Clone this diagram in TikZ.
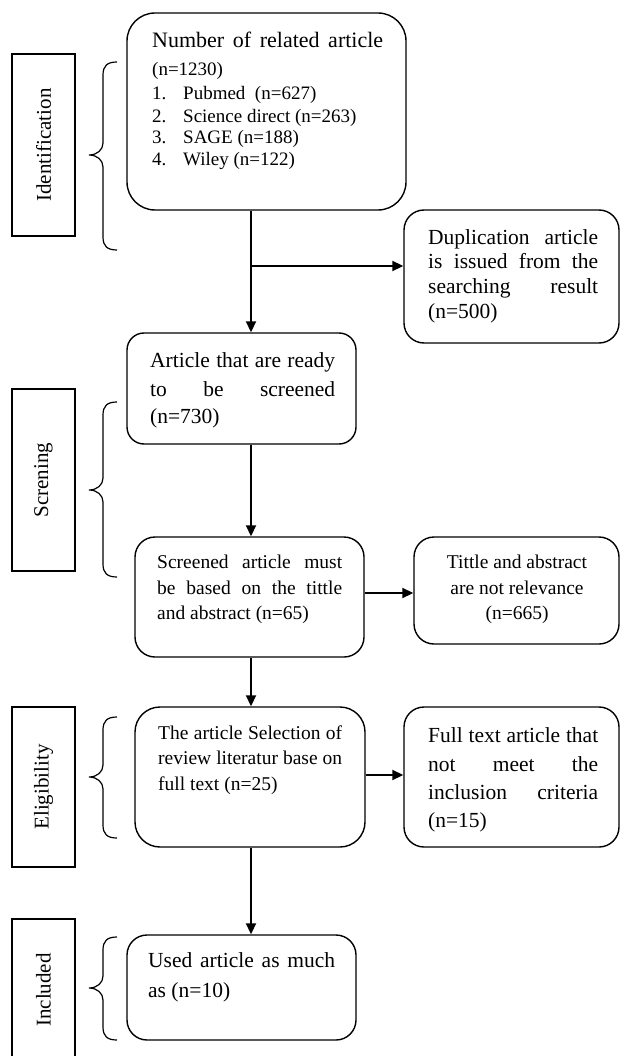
\documentclass[tikz,border=0pt]{standalone}
\usepackage{fontspec}
\setmainfont{Liberation Serif}
\usetikzlibrary{arrows.meta}
\newcommand{\sprd}[2]{\makebox[#1][s]{#2}}
\newcommand{\fa}{\fontsize{19}{23}\selectfont}
\newcommand{\fb}{\fontsize{19.5}{23}\selectfont}
\newcommand{\fc}{\fontsize{21.5}{25}\selectfont}
\newcommand{\mybrace}[3]{%
  \draw[brc] (117,#1) .. controls (107,#1) and (103,{#1+4}) .. (103,{#1+13})
    -- (103,{#2-12}) .. controls (103,{#2-5}) and (97,#2) .. (89,#2)
    .. controls (97,#2) and (103,{#2+5}) .. (103,{#2+12})
    -- (103,{#3-13}) .. controls (103,{#3-4}) and (107,#3) .. (117,#3);}
\tikzset{
  box/.style={draw, line width=1.4pt, inner sep=0pt},
  lab/.style={draw, line width=1.3pt, rotate=90, inner sep=0pt, minimum height=63pt, font=\fontsize{21}{25}\selectfont},
  ln/.style={anchor=base west, inner sep=0pt},
  lnc/.style={anchor=base, inner sep=0pt},
  arr/.style={line width=1.8pt, -{Triangle[length=11pt,width=10pt]}},
  brc/.style={line width=1.2pt},
}
\begin{document}
\begin{tikzpicture}[x=1pt,y=-1pt]
\useasboundingbox (0,0) rectangle (620,1056);
\clip (0,0) rectangle (620,1056);
\fill[white] (0,0) rectangle (620,1056);

% stage labels
\node[lab, minimum width=182pt] (lid) at (43.5,145) {Identification};
\node[lab, minimum width=182pt] (lsc) at (43.5,480) {Screning};
\node[lab, minimum width=160pt] (lel) at (43.5,787) {Eligibility};
\node[lab, minimum width=142pt] (lin) at (43.5,990) {Included};

% braces
\mybrace{62}{155}{250}
\mybrace{402}{490}{577}
\mybrace{717}{777}{838}
\mybrace{937}{988}{1040}

% boxes
\node[box, rounded corners=28pt, minimum width=279pt, minimum height=197pt] (b1) at (266.5,111.5) {};
\node[box, rounded corners=20pt, minimum width=215pt, minimum height=133pt] (b2) at (511.5,276.5) {};
\node[box, rounded corners=17pt, minimum width=229pt, minimum height=111pt] (b3) at (241.5,388.5) {};
\node[box, rounded corners=20pt, minimum width=229pt, minimum height=120pt] (b4) at (249.5,597) {};
\node[box, rounded corners=20pt, minimum width=205pt, minimum height=107pt] (b5) at (516.5,590.5) {};
\node[box, rounded corners=25pt, minimum width=230pt, minimum height=140pt] (b6) at (250,777) {};
\node[box, rounded corners=20pt, minimum width=215pt, minimum height=140pt] (b7) at (511.5,777) {};
\node[box, rounded corners=20pt, minimum width=229pt, minimum height=105pt] (b8) at (241.5,987.5) {};

% box 1 text
\node[ln, font=\fontsize{22}{26}\selectfont] (b1a) at (152,48) {\sprd{231pt}{Number of related article}};
\node[ln, font=\fa] (b1b) at (152,76) {(n=1230)};
\node[ln, font=\fa] (b1c) at (152,100) {\makebox[31pt][l]{1.}Pubmed\ \ (n=627)};
\node[ln, font=\fa] (b1d) at (152,123) {\makebox[31pt][l]{2.}Science direct (n=263)};
\node[ln, font=\fa] (b1e) at (152,144) {\makebox[31pt][l]{3.}SAGE (n=188)};
\node[ln, font=\fa] (b1f) at (152,166) {\makebox[31pt][l]{4.}Wiley (n=122)};

% box 2 text
\node[ln, font=\fc] (b2a) at (428,245) {\sprd{170pt}{Duplication article}};
\node[ln, font=\fc] (b2b) at (428,269) {\sprd{170pt}{is issued from the}};
\node[ln, font=\fc] (b2c) at (428,294) {\sprd{170pt}{searching result}};
\node[ln, font=\fc] (b2d) at (428,318) {(n=500)};

% box 3 text
\node[ln, font=\fc] (b3a) at (150,367) {\sprd{185pt}{Article that are ready}};
\node[ln, font=\fc] (b3b) at (150,396) {\sprd{185pt}{to be screened}};
\node[ln, font=\fc] (b3c) at (150,423) {(n=730)};

% box 4 text
\node[ln, font=\fb] (b4a) at (157,568) {\sprd{185pt}{Screened article must}};
\node[ln, font=\fb] (b4b) at (157,594) {\sprd{185pt}{be based on the tittle}};
\node[ln, font=\fb] (b4c) at (157,619) {and abstract (n=65)};

% box 5 text
\node[lnc, font=\fb] (b5a) at (517,568) {Tittle and abstract};
\node[lnc, font=\fb] (b5b) at (517,594) {are not relevance};
\node[lnc, font=\fb] (b5c) at (517,619) {(n=665)};

% box 6 text
\node[ln, font=\fb] (b6a) at (158,739) {\sprd{184pt}{The article Selection of}};
\node[ln, font=\fb] (b6b) at (158,764) {\sprd{184pt}{review literatur base on}};
\node[ln, font=\fb] (b6c) at (158,790) {full text (n=25)};

% box 7 text
\node[ln, font=\fc] (b7a) at (428,742) {\sprd{170pt}{Full text article that}};
\node[ln, font=\fc] (b7b) at (428,771) {\sprd{170pt}{not meet the}};
\node[ln, font=\fc] (b7c) at (428,799) {\sprd{170pt}{inclusion criteria}};
\node[ln, font=\fc] (b7d) at (428,827) {(n=15)};

% box 8 text
\node[ln, font=\fc] (b8a) at (148,967) {\sprd{187pt}{Used article as much}};
\node[ln, font=\fc] (b8b) at (148,997) {as (n=10)};

% connectors
\coordinate (sp) at (251,0);
\coordinate (j1) at (251,266);
\coordinate (j2) at (0,593);
\draw[arr] (b1.south -| sp) -- (b3.north -| sp);
\draw[arr] (j1) -- (j1 -| b2.west);
\draw[arr] (b3.south -| sp) -- (b4.north -| sp);
\draw[arr] (b4.east |- j2) -- (b5.west |- j2);
\draw[arr] (b4.south -| sp) -- (b6.north -| sp);
\draw[arr] (b6.east |- 0,775) -- (b7.west |- 0,775);
\draw[arr] (b6.south -| sp) -- (b8.north -| sp);
\end{tikzpicture}
\end{document}
